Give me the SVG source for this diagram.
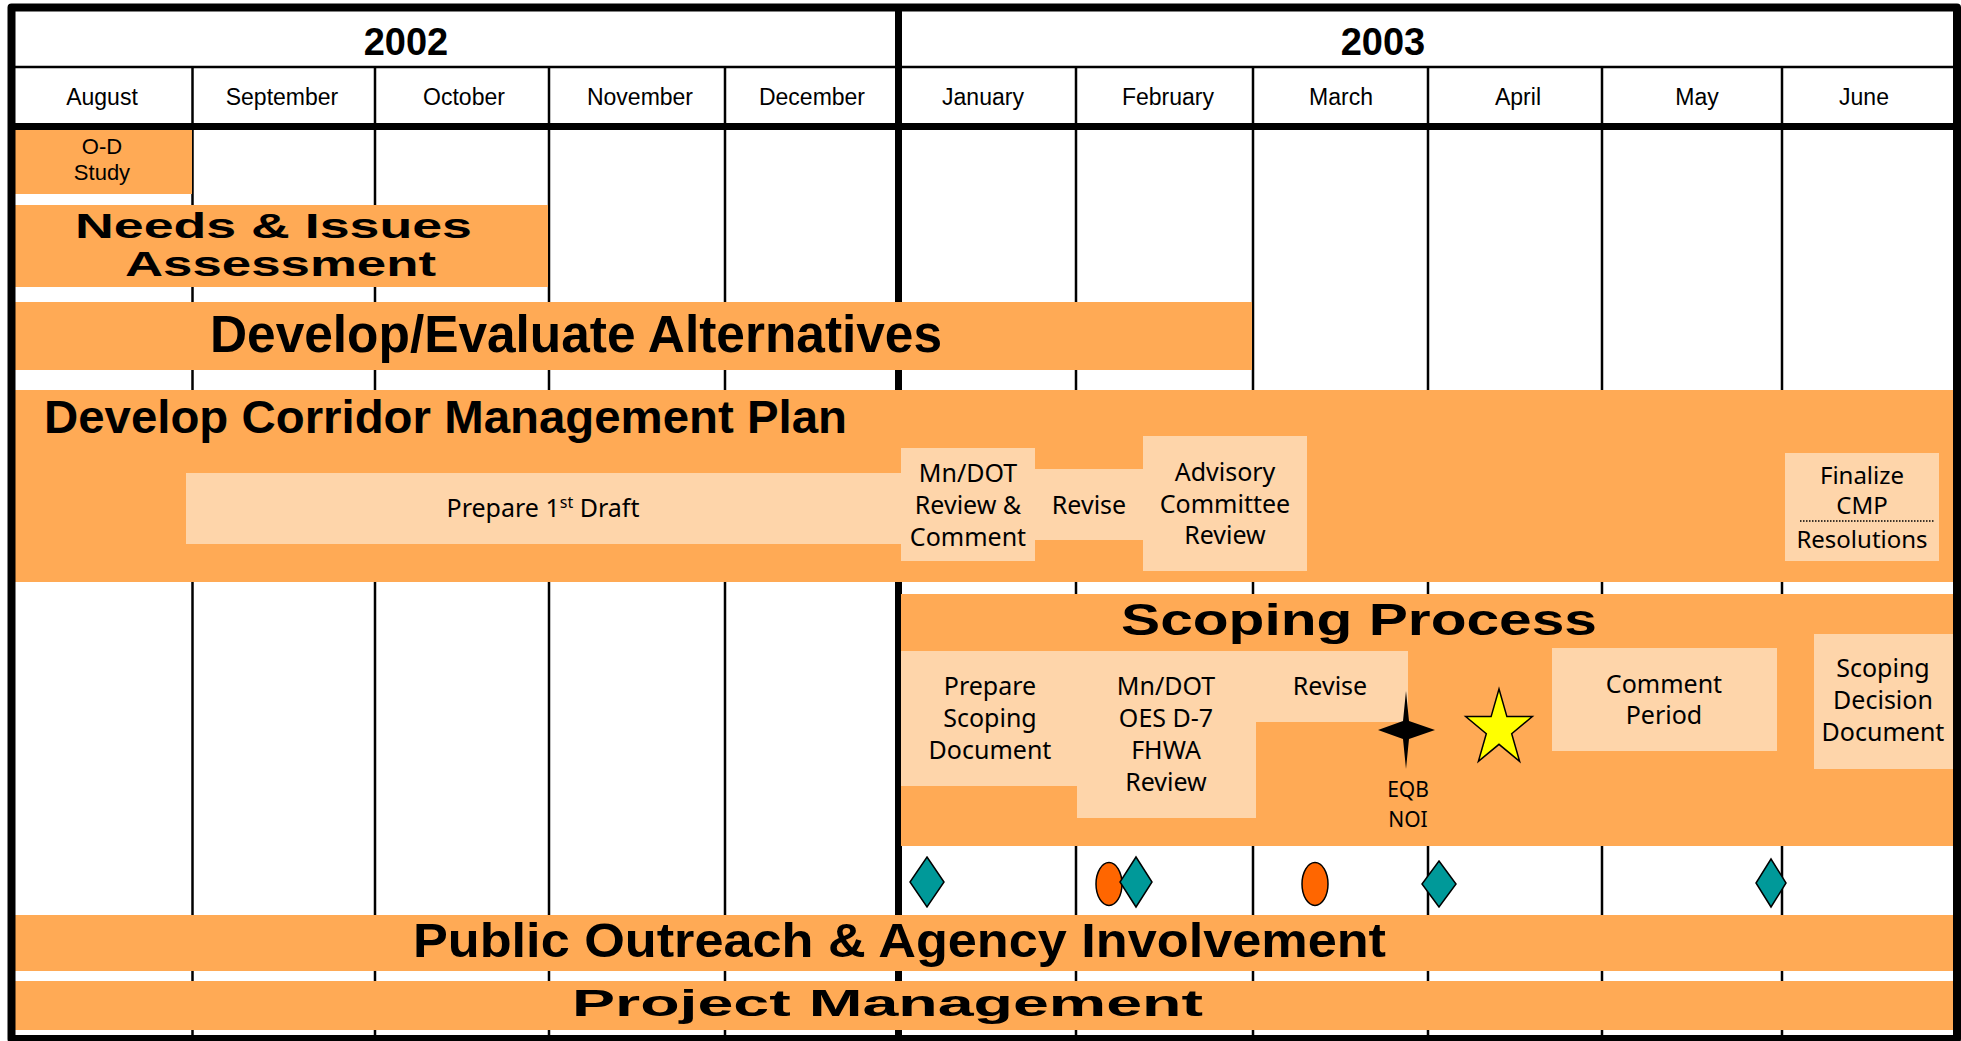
<svg xmlns="http://www.w3.org/2000/svg" width="1961" height="1041" viewBox="0 0 1961 1041">
<style>
.bar{fill:#FFAA55}
.lt{fill:#FED5AA}
.thin{stroke:#000;stroke-width:2.5;fill:none}
.thick{stroke:#000;stroke-width:7;fill:none}
.yr{font-family:"Liberation Sans",Arial,sans-serif;font-weight:bold;font-size:38px;text-anchor:middle;fill:#000}
.mo{font-family:"Liberation Sans",Arial,sans-serif;font-size:23px;text-anchor:middle;fill:#000}
.big{font-family:"Liberation Sans",Arial,sans-serif;font-weight:bold;fill:#000}
.sm{font-family:"Noto Sans","DejaVu Sans",sans-serif;font-size:25px;text-anchor:middle;fill:#000}
.od{font-family:"Liberation Sans",Arial,sans-serif;font-size:22px;text-anchor:middle;fill:#000}
.dia{fill:#009999;stroke:#000;stroke-width:1.5}
.ov{fill:#FF6600;stroke:#000;stroke-width:1.5}
</style>
<rect x="0" y="0" width="1961" height="1041" fill="#fff"/>
<g id="grid">
<line class="thin" x1="15" y1="67" x2="1953" y2="67"/>
<line class="thin" x1="192.5" y1="67" x2="192.5" y2="1037"/>
<line class="thin" x1="375" y1="67" x2="375" y2="1037"/>
<line class="thin" x1="549" y1="67" x2="549" y2="1037"/>
<line class="thin" x1="725" y1="67" x2="725" y2="1037"/>
<line class="thin" x1="1076" y1="67" x2="1076" y2="1037"/>
<line class="thin" x1="1253" y1="67" x2="1253" y2="1037"/>
<line class="thin" x1="1428" y1="67" x2="1428" y2="1037"/>
<line class="thin" x1="1602" y1="67" x2="1602" y2="1037"/>
<line class="thin" x1="1782" y1="67" x2="1782" y2="1037"/>
<line class="thick" x1="11" y1="126.5" x2="1957" y2="126.5"/>
<line class="thick" x1="898.5" y1="4" x2="898.5" y2="1038"/>
</g>
<g id="header">
<text class="yr" x="406" y="55">2002</text>
<text class="yr" x="1383" y="55">2003</text>
<text class="mo" x="102" y="105">August</text>
<text class="mo" x="282" y="105">September</text>
<text class="mo" x="464" y="105">October</text>
<text class="mo" x="640" y="105">November</text>
<text class="mo" x="812" y="105">December</text>
<text class="mo" x="983" y="105">January</text>
<text class="mo" x="1168" y="105">February</text>
<text class="mo" x="1341" y="105">March</text>
<text class="mo" x="1518" y="105">April</text>
<text class="mo" x="1697" y="105">May</text>
<text class="mo" x="1864" y="105">June</text>
</g>
<g id="od-study">
<rect class="bar" x="15" y="130" width="177" height="64"/>
<text class="od" x="102" y="154">O-D</text>
<text class="od" x="102" y="180">Study</text>
</g>
<g id="needs-issues">
<rect class="bar" x="15" y="205" width="533" height="82"/>
<text class="big" x="75" y="238" font-size="35" textLength="397" lengthAdjust="spacingAndGlyphs">Needs &amp; Issues</text>
<text class="big" x="125" y="276" font-size="35" textLength="311" lengthAdjust="spacingAndGlyphs">Assessment</text>
</g>
<g id="develop-evaluate">
<rect class="bar" x="15" y="302" width="1237" height="68"/>
<text class="big" x="210" y="352" font-size="51" textLength="732" lengthAdjust="spacingAndGlyphs">Develop/Evaluate Alternatives</text>
</g>
<g id="cmp">
<rect class="bar" x="15" y="390" width="1938" height="192"/>
<text class="big" x="44" y="433" font-size="46" textLength="803" lengthAdjust="spacingAndGlyphs">Develop Corridor Management Plan</text>
</g>
<g id="cmp-draft">
<rect class="lt" x="186" y="473" width="716" height="71"/>
<text class="sm" x="543" y="517">Prepare 1<tspan font-size="16" dy="-9">st</tspan><tspan dy="9"> Draft</tspan></text>
</g>
<g id="cmp-review">
<rect class="lt" x="901" y="448" width="134" height="113"/>
<text class="sm" x="968" y="482">Mn/DOT</text>
<text class="sm" x="968" y="514">Review &amp;</text>
<text class="sm" x="968" y="546">Comment</text>
</g>
<g id="cmp-revise">
<rect class="lt" x="1035" y="469" width="108" height="71"/>
<text class="sm" x="1089" y="514">Revise</text>
</g>
<g id="cmp-advisory">
<rect class="lt" x="1143" y="436" width="164" height="135"/>
<text class="sm" x="1225" y="481">Advisory</text>
<text class="sm" x="1225" y="513">Committee</text>
<text class="sm" x="1225" y="544">Review</text>
</g>
<g id="cmp-finalize">
<rect class="lt" x="1785" y="453" width="154" height="108"/>
<text class="sm" x="1862" y="484" style="font-size:24px">Finalize</text>
<text class="sm" x="1862" y="514" style="font-size:24px">CMP</text>
<line x1="1800" y1="521" x2="1934" y2="521" stroke="#000" stroke-width="1.5" stroke-dasharray="1.5 1.5"/>
<text class="sm" x="1862" y="548" style="font-size:24px">Resolutions</text>
</g>
<g id="scoping">
<rect class="bar" x="901" y="594" width="1052" height="252"/>
<text class="big" x="1121" y="635" font-size="45" textLength="476" lengthAdjust="spacingAndGlyphs">Scoping Process</text>
</g>
<g id="scoping-steps">
<polygon class="lt" points="901,651 1408,651 1408,722 1256,722 1256,818 1077,818 1077,786 901,786"/>
<text class="sm" x="990" y="695">Prepare</text>
<text class="sm" x="990" y="727">Scoping</text>
<text class="sm" x="990" y="759">Document</text>
<text class="sm" x="1166" y="695">Mn/DOT</text>
<text class="sm" x="1166" y="727">OES D-7</text>
<text class="sm" x="1166" y="759">FHWA</text>
<text class="sm" x="1166" y="791">Review</text>
<text class="sm" x="1330" y="695">Revise</text>
</g>
<g id="eqb-noi">
<path d="M1406,691 L1409,721 L1435,730 L1409,739 L1406,769 L1403,739 L1378,730 L1403,721 Z" fill="#000"/>
<text class="sm" x="1408" y="797" style="font-size:21px">EQB</text>
<text class="sm" x="1408" y="827" style="font-size:21px">NOI</text>
</g>
<g id="star">
<polygon points="1499,689 1506.9,716.6 1532.3,716.6 1511.7,733.7 1519.6,761.4 1499,744.3 1478.4,761.4 1486.3,733.7 1465.7,716.6 1491.1,716.6" fill="#FFFF00" stroke="#000" stroke-width="1.5"/>
</g>
<g id="comment-period">
<rect class="lt" x="1552" y="648" width="225" height="103"/>
<text class="sm" x="1664" y="693">Comment</text>
<text class="sm" x="1664" y="724">Period</text>
</g>
<g id="scoping-decision">
<rect class="lt" x="1814" y="634" width="139" height="135"/>
<text class="sm" x="1883" y="677">Scoping</text>
<text class="sm" x="1883" y="709">Decision</text>
<text class="sm" x="1883" y="741">Document</text>
</g>
<g id="milestones">
<polygon class="dia" points="927,857 944,882 927,907 910,882"/>
<ellipse class="ov" cx="1109" cy="884" rx="13" ry="21.5"/>
<polygon class="dia" points="1136,857 1152,882 1136,907 1120,882"/>
<ellipse class="ov" cx="1315" cy="884" rx="13" ry="21.5"/>
<polygon class="dia" points="1439,861 1456,884 1439,907 1422,884"/>
<polygon class="dia" points="1771,859 1786,883 1771,907 1756,883"/>
</g>
<g id="public-outreach">
<rect class="bar" x="15" y="915" width="1938" height="56"/>
<text class="big" x="413" y="957" font-size="48" textLength="973" lengthAdjust="spacingAndGlyphs">Public Outreach &amp; Agency Involvement</text>
</g>
<g id="project-management">
<rect class="bar" x="15" y="981" width="1938" height="49"/>
<text class="big" x="572" y="1016" font-size="37" textLength="631" lengthAdjust="spacingAndGlyphs">Project Management</text>
</g>
<g id="frame">
<rect x="11.5" y="7.5" width="1945.5" height="1031.5" fill="none" stroke="#000" stroke-width="8" stroke-linejoin="round"/>
</g>
</svg>
